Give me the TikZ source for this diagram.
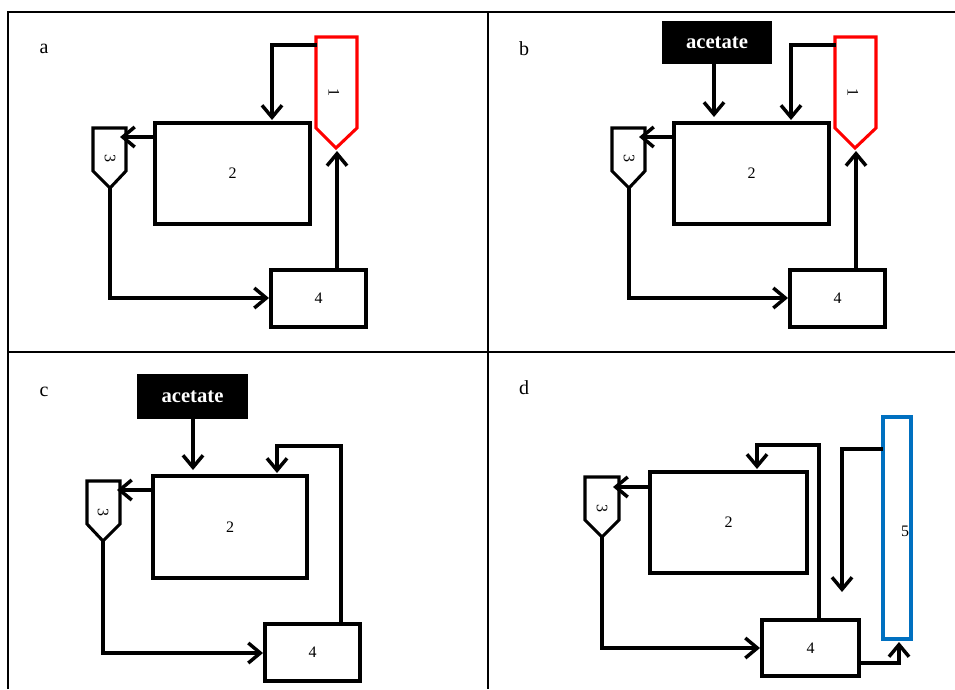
\documentclass[tikz,border=0pt]{standalone}
\usepackage{fontspec}
\setmainfont{Liberation Serif}
\usetikzlibrary{arrows.meta}
\definecolor{colred}{RGB}{255,0,0}
\definecolor{colblue}{RGB}{0,112,192}
\tikzset{
  grid/.style={line width=1.1pt, black},
  unit/.style={draw, line width=2.3pt, inner sep=0pt, font=\fontsize{12}{14}\selectfont},
  hopper/.style={line width=2.3pt, line join=miter},
  flow/.style={line width=2.3pt, -{Straight Barb[length=9pt,width=15pt,line width=2.6pt]}},
  feed/.style={fill=black, text=white, inner sep=0pt, font=\fontsize{15.5}{18}\selectfont\bfseries},
  panel/.style={font=\fontsize{15}{18}\selectfont},
  tag/.style={font=\fontsize{12}{14}\selectfont},
}
% unit box given by its corners in pixel-like units
\newcommand\unitbox[6]{%
  \node[unit, minimum width={(#4-#2)*0.75pt}, minimum height={(#5-#3)*0.75pt}]
    (#1) at ({(#2+#4)/2},{(#3+#5)/2}) {#6};}
\newcommand\feedbox[5]{%
  \node[feed, minimum width={(#4-#2)*0.75pt}, minimum height={(#5-#3)*0.75pt}]
    (#1) at ({(#2+#4)/2},{(#3+#5)/2}) {acetate};}
\begin{document}
\begin{tikzpicture}[x=0.75pt, y=-0.75pt]
\useasboundingbox (0,0) rectangle (955,689);

% table rules
\draw[grid] (8,689) -- (8,12) -- (955,12);
\draw[grid] (488,12) -- (488,689);
\draw[grid] (8,352) -- (955,352);

% ---------------- panel a ----------------
\node[panel] (la) at (44,49) {a};
\draw[hopper, colred] (316,37) -- (357,37) -- (357,128) -- (336,148) -- (316,128) -- cycle;
\node[tag, rotate=-90] (a1) at (334,92) {1};
\draw[hopper] (93,128) -- (126,128) -- (126,171) -- (110,188) -- (93,171) -- cycle;
\node[tag, rotate=-90] (a3) at (110,158) {3};
\unitbox{a2}{155}{123}{310}{224}{2}
\unitbox{a4}{271}{270}{366}{327}{4}
\coordinate (a1out) at (317,45);
\coordinate (a2in) at (272,120);
\coordinate (a2out) at (155,137);
\coordinate (a3in) at (120,137);
\coordinate (a3tip) at (110,188);
\coordinate (a4in) at (269,298);
\coordinate (a4out) at (337,270);
\coordinate (a1tip) at (337,151);
\draw[flow] (a1out) -| (a2in);
\draw[flow] (a2out) -- (a3in);
\draw[flow] (a3tip) |- (a4in);
\draw[flow] (a4out) -- (a1tip);

% ---------------- panel b ----------------
\node[panel] (lb) at (524,49) {b};
\feedbox{bac}{662}{21}{772}{64}
\draw[hopper, colred] (835,37) -- (876,37) -- (876,128) -- (855,148) -- (835,128) -- cycle;
\node[tag, rotate=-90] (b1) at (853,92) {1};
\draw[hopper] (612,128) -- (645,128) -- (645,171) -- (629,188) -- (612,171) -- cycle;
\node[tag, rotate=-90] (b3) at (629,158) {3};
\unitbox{b2}{674}{123}{829}{224}{2}
\unitbox{b4}{790}{270}{885}{327}{4}
\coordinate (bacout) at (714,64);
\coordinate (b2feed) at (714,117);
\coordinate (b1out) at (836,45);
\coordinate (b2in) at (791,120);
\coordinate (b2out) at (674,137);
\coordinate (b3in) at (639,137);
\coordinate (b3tip) at (629,188);
\coordinate (b4in) at (788,298);
\coordinate (b4out) at (856,270);
\coordinate (b1tip) at (856,151);
\draw[flow] (bacout) -- (b2feed);
\draw[flow] (b1out) -| (b2in);
\draw[flow] (b2out) -- (b3in);
\draw[flow] (b3tip) |- (b4in);
\draw[flow] (b4out) -- (b1tip);

% ---------------- panel c ----------------
\node[panel] (lc) at (44,392) {c};
\feedbox{cac}{137}{374}{248}{419}
\draw[hopper] (87,481) -- (120,481) -- (120,524) -- (103,541) -- (87,524) -- cycle;
\node[tag, rotate=-90] (c3) at (103,512) {3};
\unitbox{c2}{153}{476}{307}{578}{2}
\unitbox{c4}{265}{624}{360}{681}{4}
\coordinate (cacout) at (193,419);
\coordinate (c2feed) at (193,470);
\coordinate (c4out) at (341,624);
\coordinate (cloop) at (341,446);
\coordinate (c2in) at (277,473);
\coordinate (c2out) at (153,490);
\coordinate (c3in) at (117,490);
\coordinate (c3tip) at (103,541);
\coordinate (c4in) at (263,653);
\draw[flow] (cacout) -- (c2feed);
\draw[flow] (c4out) -- (cloop) -| (c2in);
\draw[flow] (c2out) -- (c3in);
\draw[flow] (c3tip) |- (c4in);

% ---------------- panel d ----------------
\node[panel] (ld) at (524,388) {d};
\draw[hopper] (585,477) -- (619,477) -- (619,520) -- (602,537) -- (585,520) -- cycle;
\node[tag, rotate=-90] (d3) at (602,508) {3};
\unitbox{d2}{650}{472}{807}{573}{2}
\unitbox{d4}{762}{620}{859}{676}{4}
\draw[hopper, colblue] (883,417) rectangle (911,639);
\node[tag] (d5) at (905,531) {5};
\coordinate (d2out) at (650,487);
\coordinate (d3in) at (613,487);
\coordinate (d3tip) at (602,537);
\coordinate (d4in) at (760,648);
\coordinate (d4out) at (819,620);
\coordinate (dloop) at (819,445);
\coordinate (d2in) at (757,469);
\coordinate (d5out) at (883,449);
\coordinate (d5drop) at (842,592);
\coordinate (d4side) at (859,663);
\coordinate (d5in) at (899,642);
\draw[flow] (d2out) -- (d3in);
\draw[flow] (d3tip) |- (d4in);
\draw[flow] (d4out) -- (dloop) -| (d2in);
\draw[flow] (d5out) -| (d5drop);
\draw[flow] (d4side) -| (d5in);
\end{tikzpicture}
\end{document}
